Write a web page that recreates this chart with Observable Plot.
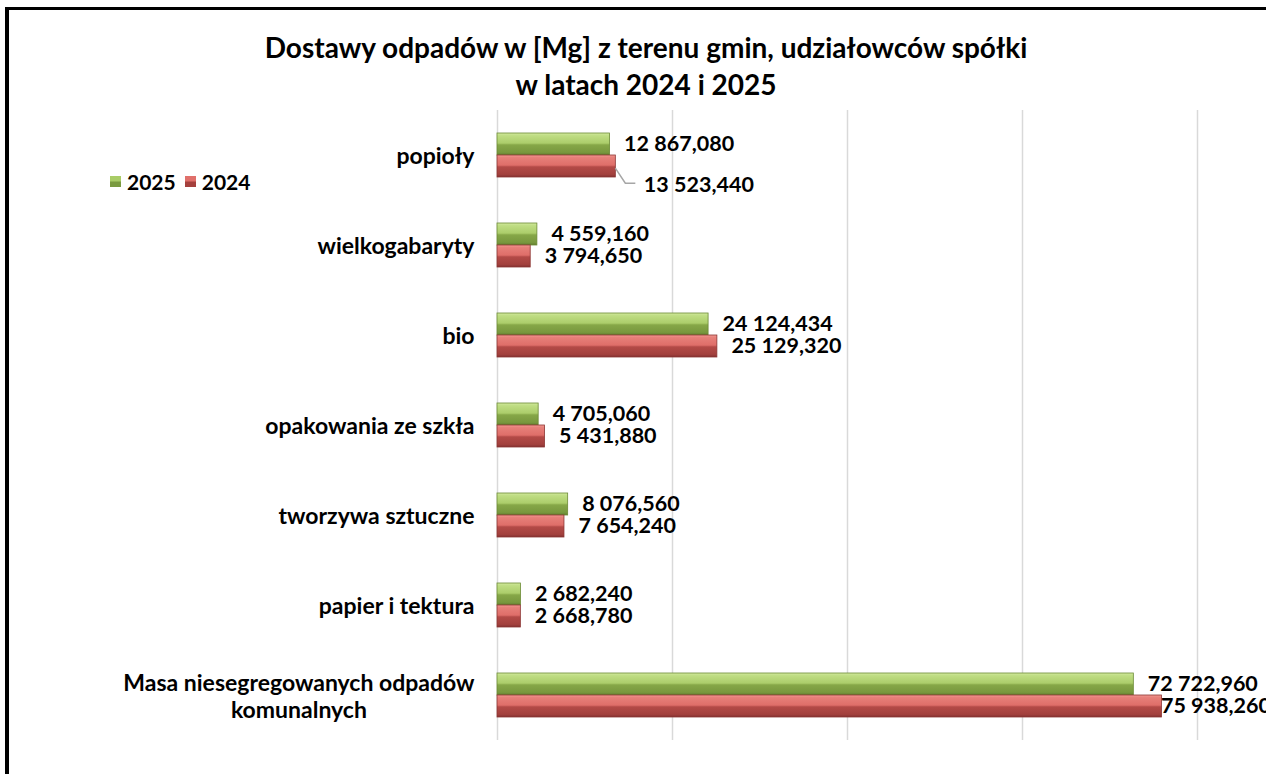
<!DOCTYPE html>
<html>
<head>
<meta charset="utf-8">
<script src="https://cdn.jsdelivr.net/npm/d3@7"></script>
<script src="https://cdn.jsdelivr.net/npm/@observablehq/plot@0.6"></script>
<style>
  html, body { margin:0; padding:0; background:#fff; overflow:hidden; width:1266px; height:774px; }
  #frame { position:absolute; left:5px; top:7px; width:2000px; height:2000px; border-left:4px solid #000; border-top:3px solid #000; }
  #chart { position:absolute; left:0; top:0; }
  #title { position:absolute; left:0; top:29px; width:1292px; text-align:center; font-family:Lato, sans-serif; font-weight:bold; font-size:28px; line-height:37px; color:#000; }
  #legend { position:absolute; left:110px; top:169px; font-family:Lato, sans-serif; font-weight:bold; font-size:21px; color:#000; display:flex; align-items:center; }
  #legend .sw { display:inline-block; width:11px; height:11px; margin-right:6px; }
  #legend .item { display:flex; align-items:center; margin-right:9px; }
</style>
</head>
<body>
<div id="frame"></div>
<div id="chart"></div>
<div id="title">Dostawy odpadów w [Mg] z terenu gmin, udziałowców spółki<br>w latach 2024 i 2025</div>
<div id="legend"></div>
<script>
const categories = ["popioły", "wielkogabaryty", "bio", "opakowania ze szkła", "tworzywa sztuczne", "papier i tektura", "Masa niesegregowanych odpadów\nkomunalnych"];
const seriesNames = ["2025", "2024"];
const values2025 = [12867.080, 4559.160, 24124.434, 4705.060, 8076.560, 2682.240, 72722.960];
const values2024 = [13523.440, 3794.650, 25129.320, 5431.880, 7654.240, 2668.780, 75938.260];
const xTicks = [0, 20000, 40000, 60000, 80000];

const data = categories.flatMap((c, i) => [
  {category: c, series: "2025", value: values2025[i]},
  {category: c, series: "2024", value: values2024[i]}
]);

const locale = d3.formatLocale({decimal: ",", thousands: " ", grouping: [3], currency: ["", ""]});
const fmt = locale.format(",.3f");

const isPop24 = d => d.category === categories[0] && d.series === "2024";
const isMasa24 = d => d.category === categories[6] && d.series === "2024";

const labelStyle = {fontFamily: "Lato, sans-serif", fontWeight: "bold", fontSize: 21.5, fill: "#000", textAnchor: "start"};

const plot = Plot.plot({
  width: 1266, height: 774,
  marginLeft: 497, marginRight: 69, marginTop: 110, marginBottom: 34,
  x: {domain: [0, 80000], axis: null},
  y: {domain: seriesNames, axis: null, paddingInner: 0, paddingOuter: 0.96},
  fy: {domain: categories, axis: null, padding: 0},
  style: {background: "transparent", overflow: "visible", fontFamily: "Lato, sans-serif"},
  marks: [
    Plot.gridX(xTicks, {stroke: "#d9d9d9", strokeOpacity: 1, strokeWidth: 1.5}),
    Plot.barX(data.filter(d => d.series === "2025"), {fy: "category", y: "series", x: "value", fill: "url(#g2025)", stroke: "#6b8a35", strokeWidth: 0.8}),
    Plot.barX(data.filter(d => d.series === "2024"), {fy: "category", y: "series", x: "value", fill: "url(#g2024)", stroke: "#8b3533", strokeWidth: 0.8}),
    Plot.text(categories, {fy: d => d, text: d => d, frameAnchor: "left", textAnchor: "end", dx: -23, fontFamily: "Lato, sans-serif", fontWeight: "bold", fontSize: 23, fill: "#000", lineHeight: 1.2}),
    Plot.text(data.filter(d => !isPop24(d) && !isMasa24(d)), {fy: "category", y: "series", x: "value", text: d => fmt(d.value), dx: 14, ...labelStyle}),
    Plot.text(data.filter(isMasa24), {fy: "category", y: "series", x: "value", text: d => fmt(d.value), dx: -1, ...labelStyle}),
    Plot.text(data.filter(isPop24), {fy: "category", y: "series", x: "value", text: d => fmt(d.value), dx: 28, dy: 19, ...labelStyle})
  ]
});

const svg = d3.select(plot);
const defs = svg.insert("defs", ":first-child");
function grad(id, stops) {
  const g = defs.append("linearGradient").attr("id", id).attr("x1", 0).attr("y1", 0).attr("x2", 0).attr("y2", 1);
  stops.forEach(([o, c]) => g.append("stop").attr("offset", o).attr("stop-color", c));
}
grad("g2025", [["0%", "#d3ea9f"], ["12%", "#bfdd83"], ["46%", "#accd6b"], ["54%", "#86a748"], ["88%", "#78983e"], ["100%", "#627f2f"]]);
grad("g2024", [["0%", "#f29892"], ["12%", "#e67f79"], ["46%", "#df6e69"], ["54%", "#b34a47"], ["88%", "#a2403d"], ["100%", "#843131"]]);

document.getElementById("chart").appendChild(plot);

// centre the lines of multi-line category labels (as in the original)
try {
  svg.selectAll("text").each(function() {
    const tspans = this.querySelectorAll("tspan");
    if (tspans.length > 1) {
      let maxLen = 0;
      tspans.forEach(t => { maxLen = Math.max(maxLen, t.getComputedTextLength()); });
      this.setAttribute("text-anchor", "middle");
      tspans.forEach(t => t.setAttribute("x", -maxLen / 2));
    }
  });
} catch (e) { console.error(e); }

// leader line for the displaced 2024 "popioły" label
try {
  const rects = [];
  svg.selectAll("rect").each(function() {
    const holder = this.closest("[fill]");
    if (holder && holder.getAttribute("fill") === "url(#g2024)") rects.push(this);
  });
  if (rects.length) {
    const first = rects.reduce((a, b) => a.getBoundingClientRect().top < b.getBoundingClientRect().top ? a : b);
    const r = first.getBoundingClientRect();
    const x0 = r.right, y0 = r.top + r.height * 0.6;
    svg.append("path")
      .attr("d", `M${x0},${y0}L${x0 + 10},${y0 + 15}L${x0 + 20},${y0 + 15}`)
      .attr("fill", "none").attr("stroke", "#a6a6a6").attr("stroke-width", 1.5);
  }
} catch (e) { console.error(e); }

// legend
const legend = d3.select("#legend");
seriesNames.forEach(name => {
  const it = legend.append("span").attr("class", "item");
  it.append("span").attr("class", "sw").style("background", name === "2025" ? "linear-gradient(#a9cc67 0 45%, #7a9a40 55%)" : "linear-gradient(#e0706b 0 45%, #a5403d 55%)");
  it.append("span").text(name);
});
</script>
</body>
</html>
